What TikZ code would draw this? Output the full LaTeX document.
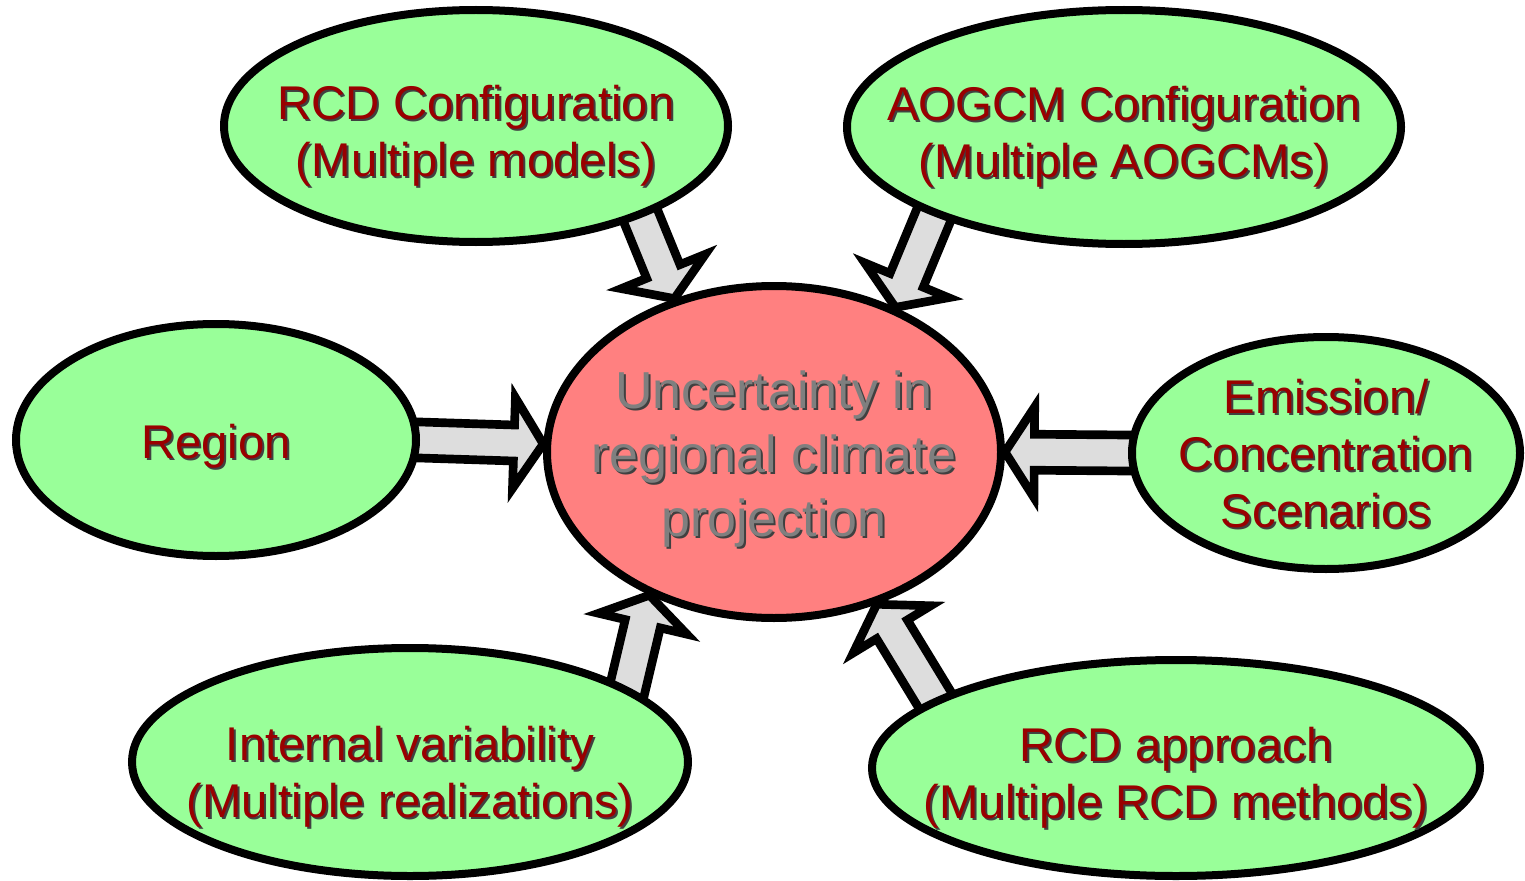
\documentclass[tikz,border=0pt]{standalone}
\usepackage{fontspec}
\setmainfont{Liberation Sans}
\usetikzlibrary{shapes.geometric, calc}
\definecolor{bubgreen}{HTML}{99FF99}
\definecolor{bubred}{HTML}{FF8080}
\definecolor{arrowgray}{HTML}{DDDDDD}
\definecolor{textred}{HTML}{990000}
\definecolor{textgray}{HTML}{7F7F7F}
\definecolor{textshadow}{HTML}{404040}
\pgfdeclarelayer{background}
\pgfsetlayers{background,main}
\newcommand{\shd}[1]{\makebox[0pt][l]{\raisebox{-1.5pt}{\kern1.5pt\textcolor{textshadow}{#1}}}#1}
\newcommand{\bubtext}[2][-0.4em]{\makebox[0pt]{\raisebox{#1}{\begin{tabular}{@{}c@{}}#2\end{tabular}}}}
\newcommand{\blockarrow}[2]{%
  \path ($(#1)!-25pt!(#2)$) coordinate (tail) ($(#2)!22pt!(#1)$) coordinate (neck);
  \draw[flow] ($(tail)!13.5pt!90:(#2)$) -- ($(neck)!13.5pt!90:(#2)$) -- ($(neck)!34pt!90:(#2)$)
    -- (#2) -- ($(neck)!34pt!-90:(#2)$) -- ($(neck)!13.5pt!-90:(#2)$)
    -- ($(tail)!13.5pt!-90:(#2)$) -- cycle;}

\begin{document}
\begin{tikzpicture}[x=0.75pt, y=-0.75pt,
    bubble/.style={ellipse, draw=black, line width=6pt, fill=bubgreen, inner sep=0pt,
                   text height=0pt, text depth=0pt, text=textred,
                   font=\fontsize{35.5}{43}\selectfont},
    bubsize/.style 2 args={minimum width=#1*0.75pt, minimum height=#2*0.75pt},
    hub/.style={bubble, fill=bubred, text=textgray, font=\fontsize{39}{48}\selectfont},
    flow/.style={draw=black, line width=6.5pt, fill=arrowgray, line join=miter}]
  \useasboundingbox (0,0) rectangle (1525,881);
  \node[hub, bubsize={454}{332}] (uncert) at (774,452)
    {\bubtext[-0.3em]{\shd{Uncertainty in}\\\shd{regional climate}\\\shd{projection}}};
  \node[bubble, bubsize={504}{232}] (rcdconf) at (476,126)
    {\bubtext{\shd{RCD Configuration}\\\shd{(Multiple models)}}};
  \node[bubble, bubsize={554}{234}] (aogcm) at (1124,127)
    {\bubtext{\shd{AOGCM Configuration}\\\shd{(Multiple AOGCMs)}}};
  \node[bubble, bubsize={400}{232}] (region) at (216,440)
    {\bubtext[-0.32em]{\shd{Region}}};
  \node[bubble, bubsize={388}{232}] (emission) at (1326,453)
    {\bubtext[-0.3em]{\shd{Emission/}\\\shd{Concentration}\\\shd{Scenarios}}};
  \node[bubble, bubsize={556}{228}] (intvar) at (410,762)
    {\bubtext[-0.5em]{\shd{Internal variability}\\\shd{(Multiple realizations)}}};
  \node[bubble, bubsize={608}{216}] (rcdappr) at (1176,768)
    {\bubtext{\shd{RCD approach}\\\shd{(Multiple RCD methods)}}};
  \begin{pgfonlayer}{background}
    \blockarrow{rcdconf.-29}{uncert.123}
    \blockarrow{aogcm.205}{uncert.50}
    \blockarrow{region.-0.5}{uncert.178}
    \blockarrow{emission.180}{uncert.0}
    \blockarrow{intvar.19}{uncert.229}
    \blockarrow{rcdappr.164}{uncert.304.5}
  \end{pgfonlayer}
\end{tikzpicture}
\end{document}
